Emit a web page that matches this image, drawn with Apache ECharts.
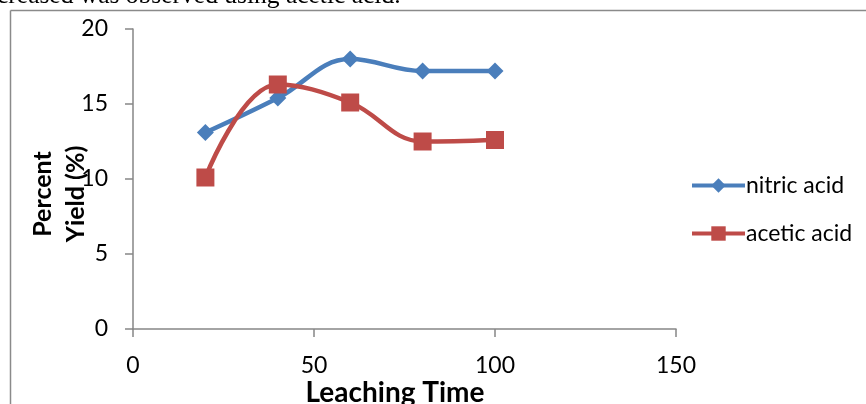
<!DOCTYPE html>
<html>
<head>
<meta charset="utf-8">
<script src="https://cdn.jsdelivr.net/npm/echarts@6/dist/echarts.min.js"></script>
<style>
html,body{margin:0;padding:0;background:#fff;}
#c{width:866px;height:404px;}
</style>
</head>
<body>
<div id="c"></div>
<script>
var leachingTime = [20, 40, 60, 80, 100];
var nitricAcid = [13.1, 15.4, 18.0, 17.2, 17.2];
var aceticAcid = [10.1, 16.3, 15.1, 12.5, 12.6];
var seriesNames = ['nitric acid', 'acetic acid'];
var xTicks = [0, 50, 100, 150];
var yTicks = [0, 5, 10, 15, 20];
var captionText = 'creased was observed using acetic acid.';

function pairs(xs, ys) { return xs.map(function (x, i) { return [x, ys[i]]; }); }

var font = 'Lato, "Open Sans", sans-serif';
var chart = echarts.init(document.getElementById('c'), null, {renderer: 'canvas'});
chart.setOption({
  animation: false,
  backgroundColor: '#fff',
  grid: {left: 133, right: 190, top: 29, bottom: 75, containLabel: false, outerBoundsMode: 'none'},
  graphic: [
    {type: 'text', left: -3, top: -17, style: {text: captionText, font: '25.5px "Liberation Serif", "Times New Roman", serif', fill: '#000'}},
    {type: 'line', shape: {x1: 10.5, y1: 10.5, x2: 866, y2: 10.5}, style: {stroke: '#8a8a8a', lineWidth: 1.5}},
    {type: 'line', shape: {x1: 10.5, y1: 10.5, x2: 10.5, y2: 404}, style: {stroke: '#8a8a8a', lineWidth: 1.5}}
  ],
  legend: {
    orient: 'vertical', left: 685, top: 169, itemWidth: 53, itemHeight: 18, itemGap: 25,
    data: seriesNames,
    lineStyle: {width: 4},
    textStyle: {fontFamily: font, fontSize: 23, color: '#000', padding: [0, 0, 0, -4]}
  },
  xAxis: {
    type: 'value', min: 0, max: 150, interval: 50,
    name: 'Leaching Time', nameLocation: 'middle', nameGap: 50, nameMoveOverlap: false,
    nameTextStyle: {fontFamily: font, fontSize: 28, fontWeight: 'bold', color: '#000', padding: [0, 19, 0, 0]},
    axisLine: {lineStyle: {color: '#868686', width: 1.5}},
    axisTick: {show: true, length: 8, lineStyle: {color: '#868686', width: 1.5}},
    axisLabel: {fontFamily: font, fontSize: 23, color: '#000', margin: 25,
      formatter: function (v) { return xTicks.indexOf(v) >= 0 ? String(v) : ''; }},
    splitLine: {show: false}
  },
  yAxis: {
    type: 'value', min: 0, max: 20, interval: 5,
    name: 'Percent\nYield (%)', nameLocation: 'middle', nameGap: 41, nameRotate: 90, nameMoveOverlap: false,
    nameTextStyle: {fontFamily: font, fontSize: 25, fontWeight: 'bold', color: '#000', lineHeight: 33, padding: [0, 30, 0, 0]},
    axisLine: {show: true, lineStyle: {color: '#868686', width: 1.5}},
    axisTick: {show: true, length: 8, lineStyle: {color: '#868686', width: 1.5}},
    axisLabel: {fontFamily: font, fontSize: 23, color: '#000', margin: 25,
      formatter: function (v) { return yTicks.indexOf(v) >= 0 ? String(v) : ''; }},
    splitLine: {show: false}
  },
  series: [
    {name: seriesNames[0], type: 'line', smooth: 0.4, data: pairs(leachingTime, nitricAcid),
      symbol: 'diamond', symbolSize: 17, color: '#4A7EBB',
      lineStyle: {width: 4.5, color: '#4A7EBB'}, itemStyle: {color: '#4A7EBB'}},
    {name: seriesNames[1], type: 'line', smooth: 0.4, data: pairs(leachingTime, aceticAcid),
      symbol: 'rect', symbolSize: 18, color: '#BE4B48',
      lineStyle: {width: 4.5, color: '#BE4B48'}, itemStyle: {color: '#BE4B48'}}
  ]
});
</script>
</body>
</html>
